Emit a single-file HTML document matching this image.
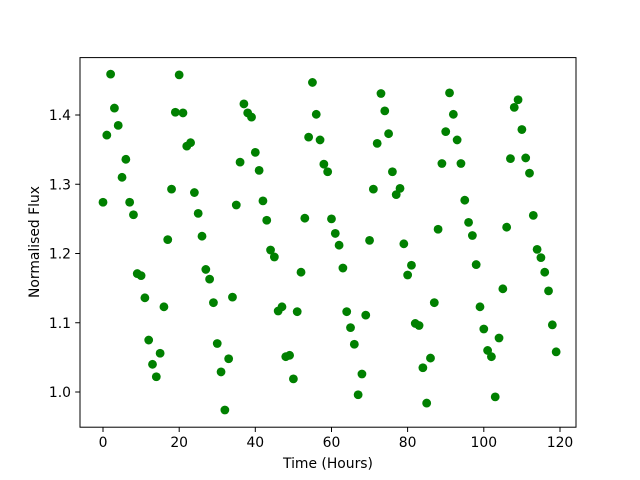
<!DOCTYPE html>
<html><head><meta charset="utf-8"><style>body{margin:0;background:#fff}svg{display:block}text{font-family:"DejaVu Sans",sans-serif;font-size:13.9px;fill:#000}</style></head>
<body>
<svg id="s" width="640" height="480" xmlns="http://www.w3.org/2000/svg">
<rect x="0" y="0" width="640" height="480" fill="#fff"/>
<g id="pts"></g>
<rect x="80" y="57.6" width="496" height="369.6" fill="none" stroke="#000" stroke-width="1"/>
<g stroke="#000" stroke-width="1">
<line x1="103" y1="427.2" x2="103" y2="432"/>
<line x1="179.2" y1="427.2" x2="179.2" y2="432"/>
<line x1="255.3" y1="427.2" x2="255.3" y2="432"/>
<line x1="331.5" y1="427.2" x2="331.5" y2="432"/>
<line x1="407.6" y1="427.2" x2="407.6" y2="432"/>
<line x1="483.8" y1="427.2" x2="483.8" y2="432"/>
<line x1="560" y1="427.2" x2="560" y2="432"/>
<line x1="75.2" y1="392" x2="80" y2="392"/>
<line x1="75.2" y1="322.75" x2="80" y2="322.75"/>
<line x1="75.2" y1="253.5" x2="80" y2="253.5"/>
<line x1="75.2" y1="184.25" x2="80" y2="184.25"/>
<line x1="75.2" y1="115" x2="80" y2="115"/>
</g>
<g text-anchor="middle">
<text x="103" y="447">0</text>
<text x="179.2" y="447">20</text>
<text x="255.3" y="447">40</text>
<text x="331.5" y="447">60</text>
<text x="407.6" y="447">80</text>
<text x="483.8" y="447">100</text>
<text x="560" y="447">120</text>
<text x="328" y="468">Time (Hours)</text>
</g>
<g text-anchor="end">
<text x="71" y="397">1.0</text>
<text x="71" y="327.75">1.1</text>
<text x="71" y="258.5">1.2</text>
<text x="71" y="189.25">1.3</text>
<text x="71" y="120">1.4</text>
</g>
<text x="0" y="0" text-anchor="middle" transform="translate(39,242) rotate(-90)">Normalised Flux</text>
</svg>
<script>
var v=[1.274,1.371,1.459,1.410,1.385,1.310,1.336,1.274,1.256,1.171,1.168,1.136,1.075,1.040,1.022,1.056,1.123,1.220,1.293,1.404,1.458,1.403,1.355,1.360,1.288,1.258,1.225,1.177,1.163,1.129,1.070,1.029,0.974,1.048,1.137,1.270,1.332,1.416,1.403,1.397,1.346,1.320,1.276,1.248,1.205,1.195,1.117,1.123,1.051,1.053,1.019,1.116,1.173,1.251,1.368,1.447,1.401,1.364,1.329,1.318,1.250,1.229,1.212,1.179,1.116,1.093,1.069,0.996,1.026,1.111,1.219,1.293,1.359,1.431,1.406,1.373,1.318,1.285,1.294,1.214,1.169,1.183,1.099,1.096,1.035,0.984,1.049,1.129,1.235,1.330,1.376,1.432,1.401,1.364,1.330,1.277,1.245,1.226,1.184,1.123,1.091,1.060,1.051,0.993,1.078,1.149,1.238,1.337,1.411,1.422,1.379,1.338,1.316,1.255,1.206,1.194,1.173,1.146,1.097,1.058];
var g=document.getElementById('pts'),h='';
for(var i=0;i<v.length;i++){h+='<circle cx="'+(103+3.808*i).toFixed(2)+'" cy="'+(392-(v[i]-1)*692.5).toFixed(2)+'" r="4.4" fill="#008000"/>';}
g.innerHTML=h;
</script>
</body></html>
